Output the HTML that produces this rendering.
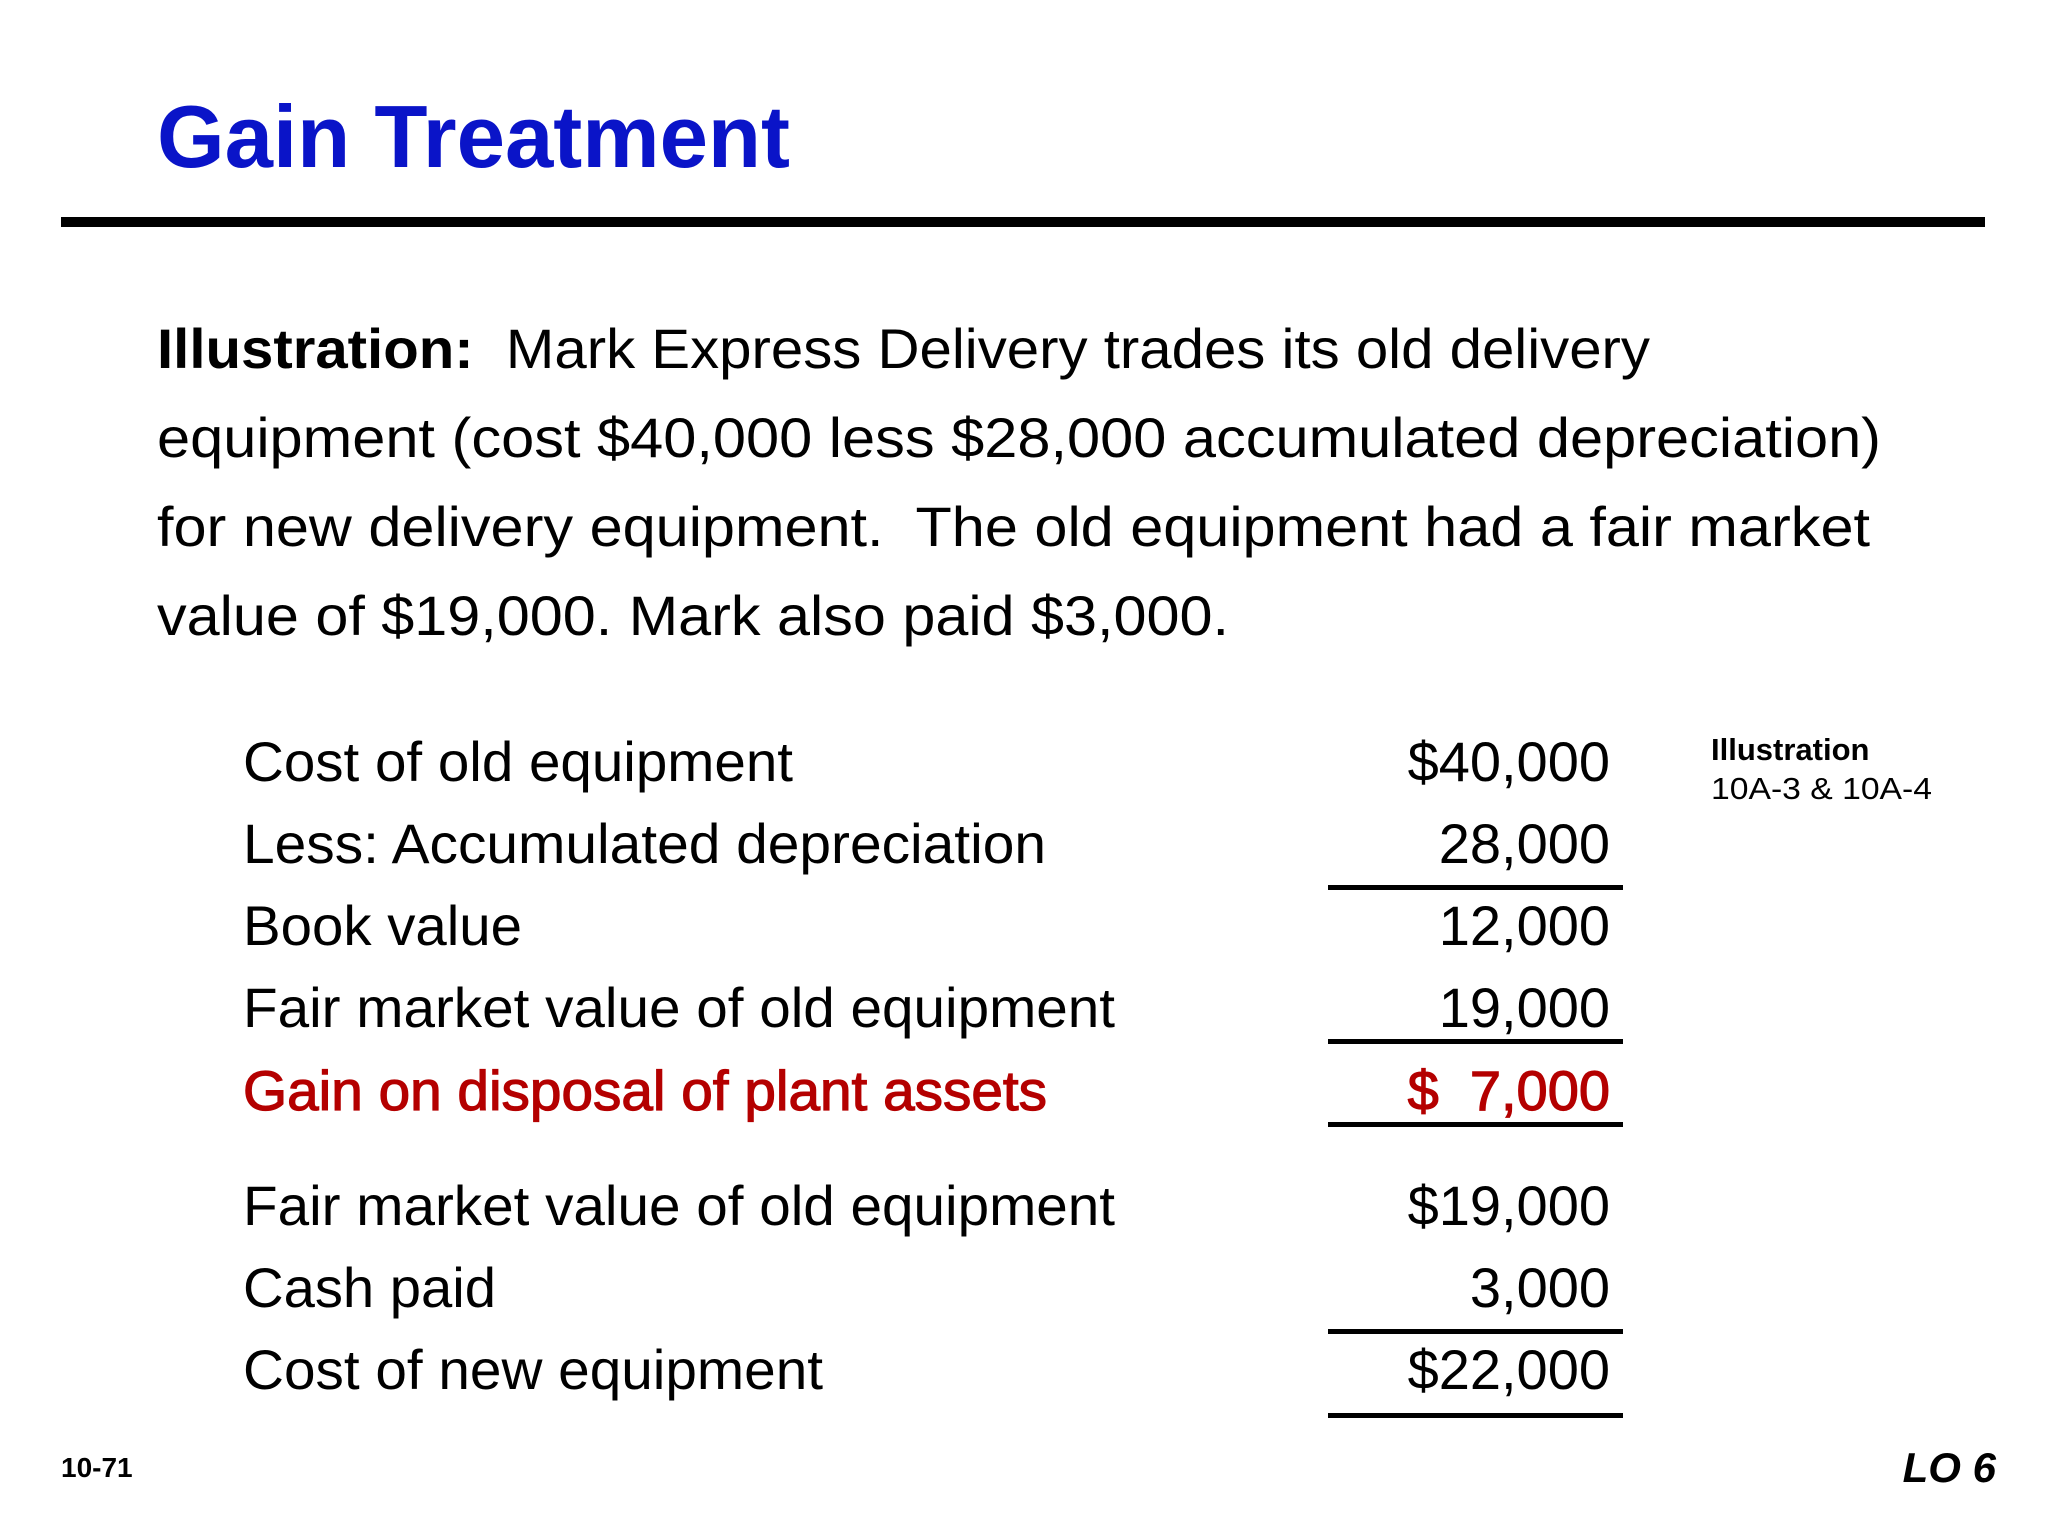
<!DOCTYPE html>
<html><head><meta charset="utf-8"><style>
html,body{margin:0;padding:0;background:#fff;}
svg{display:block;font-family:"Liberation Sans",Arial,sans-serif;}
</style></head><body>
<svg width="2048" height="1536" viewBox="0 0 2048 1536">
<text x="157" y="167" font-size="88" font-weight="bold" fill="#0a14c8" textLength="633" lengthAdjust="spacingAndGlyphs">Gain Treatment</text>
<rect x="61" y="217" width="1924" height="10" fill="#000"/>
<g font-size="56" fill="#000">
<text x="157" y="368" textLength="1493" lengthAdjust="spacingAndGlyphs" xml:space="preserve"><tspan font-weight="bold">Illustration:</tspan>  Mark Express Delivery trades its old delivery</text>
<text x="157" y="457" textLength="1724" lengthAdjust="spacingAndGlyphs">equipment (cost $40,000 less $28,000 accumulated depreciation)</text>
<text x="157" y="546" textLength="1713" lengthAdjust="spacingAndGlyphs" xml:space="preserve">for new delivery equipment.  The old equipment had a fair market</text>
<text x="157" y="635" textLength="1072" lengthAdjust="spacingAndGlyphs">value of $19,000. Mark also paid $3,000.</text>
</g>
<g font-size="56">
<text x="243" y="781" textLength="550" lengthAdjust="spacingAndGlyphs">Cost of old equipment</text>
<text x="1610" y="781" text-anchor="end">$40,000</text>
<text x="243" y="863" textLength="803" lengthAdjust="spacingAndGlyphs">Less: Accumulated depreciation</text>
<text x="1610" y="863" text-anchor="end">28,000</text>
<text x="243" y="945" textLength="279" lengthAdjust="spacingAndGlyphs">Book value</text>
<text x="1610" y="945" text-anchor="end">12,000</text>
<text x="243" y="1027" textLength="872" lengthAdjust="spacingAndGlyphs">Fair market value of old equipment</text>
<text x="1610" y="1027" text-anchor="end">19,000</text>
<text x="243" y="1110" fill="#b40000" stroke="#b40000" stroke-width="1.2" textLength="804" lengthAdjust="spacingAndGlyphs">Gain on disposal of plant assets</text>
<text x="1610" y="1110" fill="#b40000" stroke="#b40000" stroke-width="1.2" text-anchor="end" xml:space="preserve">$  7,000</text>
<text x="243" y="1225" textLength="872" lengthAdjust="spacingAndGlyphs">Fair market value of old equipment</text>
<text x="1610" y="1225" text-anchor="end">$19,000</text>
<text x="243" y="1307" textLength="253" lengthAdjust="spacingAndGlyphs">Cash paid</text>
<text x="1610" y="1307" text-anchor="end">3,000</text>
<text x="243" y="1389" textLength="580" lengthAdjust="spacingAndGlyphs">Cost of new equipment</text>
<text x="1610" y="1389" text-anchor="end">$22,000</text>
</g>
<g fill="#000">
<rect x="1328" y="885" width="295" height="5"/>
<rect x="1328" y="1039" width="295" height="5"/>
<rect x="1328" y="1122" width="295" height="5"/>
<rect x="1328" y="1329" width="295" height="5"/>
<rect x="1328" y="1413" width="295" height="5"/>
</g>
<g font-size="31">
<text x="1711" y="760" font-weight="bold">Illustration</text>
<text x="1711" y="799" textLength="221" lengthAdjust="spacingAndGlyphs">10A-3 &amp; 10A-4</text>
</g>
<text x="61" y="1477" font-size="28" font-weight="bold">10-71</text>
<text x="1996" y="1482" font-size="42" font-weight="bold" font-style="italic" text-anchor="end">LO 6</text>
</svg>
</body></html>
